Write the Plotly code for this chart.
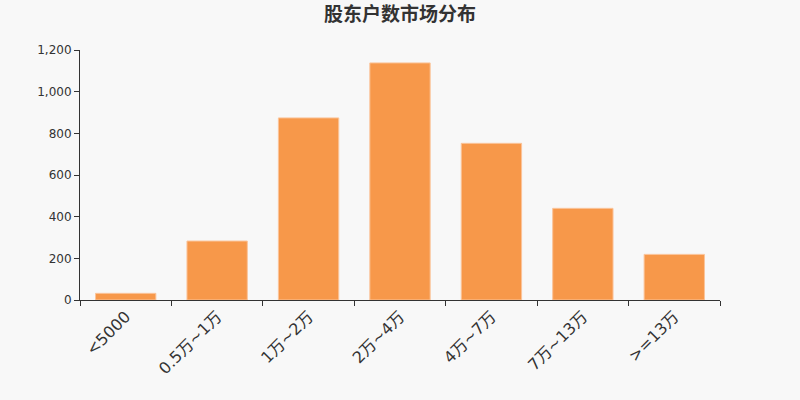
import plotly.graph_objects as go

categories = ["<5000", "0.5万~1万", "1万~2万", "2万~4万", "4万~7万", "7万~13万", ">=13万"]
values = [32, 283, 874, 1138, 752, 440, 219]
y_ticks = [0, 200, 400, 600, 800, 1000, 1200]

fig = go.Figure(go.Bar(
    x=categories, y=values,
    marker=dict(color="#F7984A", line=dict(color="#FBC49A", width=1)),
    width=0.66,
))
font_fam = "DejaVu Sans, Noto Sans CJK SC, sans-serif"
fig.update_layout(
    width=800, height=400,
    paper_bgcolor="#F8F8F8", plot_bgcolor="#F8F8F8",
    margin=dict(l=80, r=80, t=50, b=100),
    title=dict(text="<b>股东户数市场分布</b>", x=0.5, xanchor="center", y=0.965, yanchor="middle",
               font=dict(family="Noto Sans CJK SC, sans-serif", size=19, color="#333333")),
    showlegend=False,
    font=dict(family=font_fam, color="#333333"),
)
fig.update_xaxes(
    type="category", tickangle=-45, tickson="boundaries",
    ticks="outside", ticklen=5, tickcolor="#333333",
    showline=True, linecolor="#333333", linewidth=1,
    showgrid=False, tickfont=dict(size=16, color="#333333"),
)
fig.update_yaxes(
    range=[0, 1200], tickvals=y_ticks, tickformat=",",
    ticks="outside", ticklen=5, tickcolor="#333333",
    showline=True, linecolor="#333333", linewidth=1,
    showgrid=False, zeroline=False, tickfont=dict(size=12, color="#333333"),
)
fig.write_html("out.html", config={"displayModeBar": False},
               post_script="document.body.style.margin='0';document.body.style.background='#F8F8F8';")
